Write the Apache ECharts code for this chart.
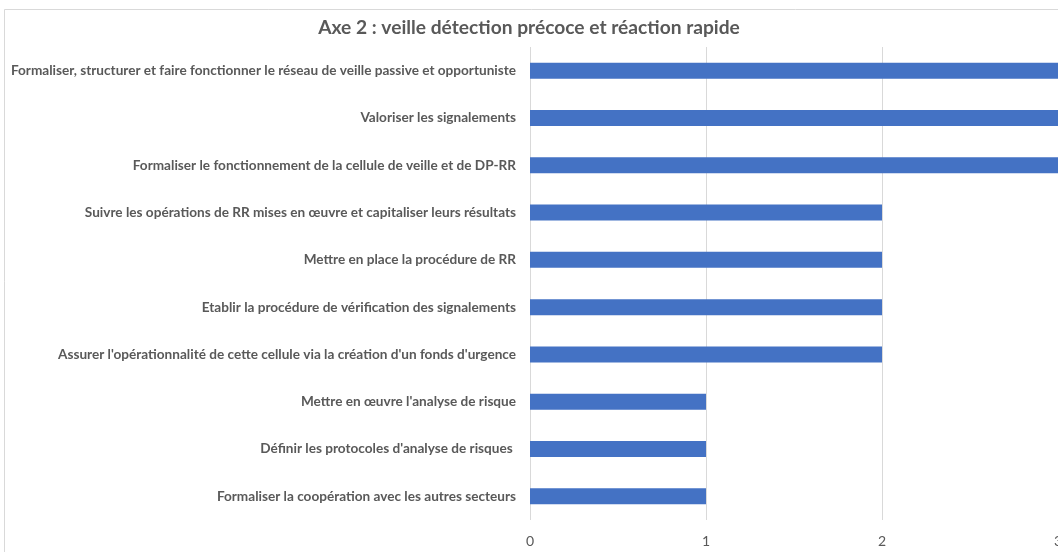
<!DOCTYPE html>
<html><head><meta charset="utf-8">
<script src="https://cdn.jsdelivr.net/npm/echarts@6/dist/echarts.min.js"></script>
<style>html,body{margin:0;padding:0;background:#fff}#c{width:1058px;height:552px}</style>
</head><body><div id="c"></div>
<script>
const categories = [
  "Formaliser, structurer et faire fonctionner le réseau de veille passive et opportuniste",
  "Valoriser les signalements",
  "Formaliser le fonctionnement de la cellule de veille et de DP-RR",
  "Suivre les opérations de RR mises en œuvre et capitaliser leurs résultats",
  "Mettre en place la procédure de RR",
  "Etablir la procédure de vérification des signalements",
  "Assurer l'opérationnalité de cette cellule via la création d'un fonds d'urgence",
  "Mettre en œuvre l'analyse de risque",
  "Définir les protocoles d'analyse de risques ",
  "Formaliser la coopération avec les autres secteurs"
];
const values = [3, 3, 3, 2, 2, 2, 2, 1, 1, 1];
const title = "Axe 2 : veille détection précoce et réaction rapide";

const chart = echarts.init(document.getElementById('c'), null, {renderer: 'canvas'});
chart.setOption({
  animation: false,
  backgroundColor: '#fff',
  title: {
    text: title, left: 'center', top: 13,
    textStyle: {fontFamily: 'Lato', fontWeight: 'bold', fontSize: 19.2, color: '#595959'}
  },
  graphic: [{
    type: 'polyline', silent: true,
    shape: {points: [[4.5, 560], [4.5, 9.5], [1070, 9.5]]},
    style: {stroke: '#d9d9d9', lineWidth: 1, fill: null}
  }],
  grid: {left: 530, right: 0, top: 47, bottom: 32, containLabel: false, outerBoundsMode: 'none'},
  xAxis: {
    type: 'value', min: 0, max: 3, interval: 1,
    axisLine: {show: false}, axisTick: {show: false},
    splitLine: {show: true, lineStyle: {color: '#d9d9d9', width: 1}},
    axisLabel: {fontFamily: 'Lato', fontSize: 14, color: '#595959', margin: 14}
  },
  yAxis: {
    type: 'category', data: categories, inverse: true,
    axisLine: {show: false}, axisTick: {show: false},
    axisLabel: {fontFamily: 'Lato', fontWeight: 'bold', fontSize: 13.6, color: '#595959', margin: 14}
  },
  series: [{
    type: 'bar', data: values, barWidth: 16,
    itemStyle: {color: '#4472C4'}
  }]
});
</script></body></html>
